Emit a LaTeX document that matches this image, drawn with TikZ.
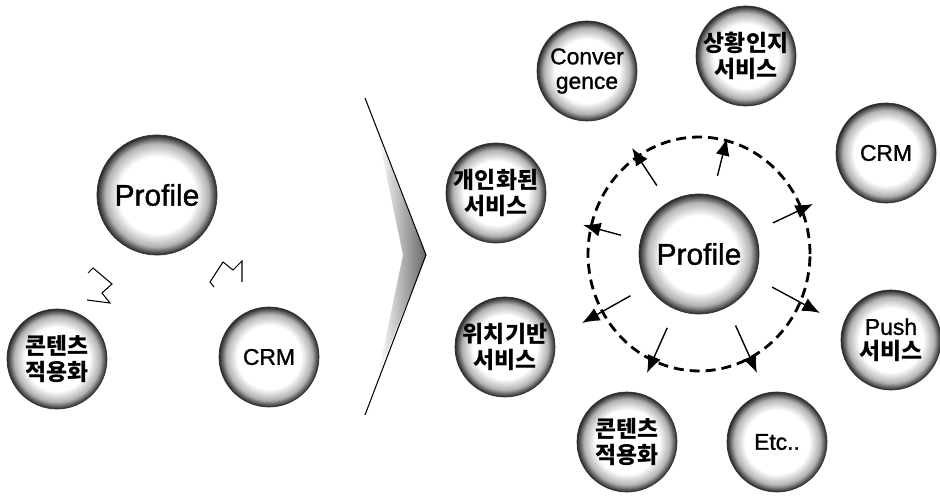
\documentclass[tikz,border=0pt]{standalone}
\usepackage{fontspec}
\setmainfont{Liberation Sans}[FakeBold=1.2]
\newfontfamily\kor{Noto Sans CJK KR}
\usepackage{tikz}
\usetikzlibrary{shapes,arrows.meta,positioning,calc}
\pgfdeclareradialshading{sphere}{\pgfpoint{0bp}{0bp}}{color(0bp)=(white); color(16bp)=(white); color(21.5bp)=(black!30); color(25bp)=(black!85); color(50bp)=(black!85)}

\begin{document}
\begin{tikzpicture}[x=0.02cm, y=-0.02cm,
    every node/.style={align=center, inner sep=0pt},
    ball/.style={circle, draw=black!80, line width=0.4pt, shading=sphere,
      minimum size=2cm, font=\fontsize{13}{14}\selectfont},
    bigball/.style={ball, minimum size=2.4cm, font=\fontsize{17}{19}\selectfont},
    hangul/.style={font=\kor\bfseries\fontsize{13}{14.5}\selectfont},
    spoke/.style={-{Latex[length=10pt, width=8pt]}, line width=0.8pt,
      shorten <=0.4cm},
    ring/.style={line width=1.6pt, dash pattern=on 0.2cm off 0.12cm},
    spark/.style={line width=0.6pt, line join=miter}
  ]
    \useasboundingbox (0,0) rectangle (940,496);
    % Before
    \node[bigball] (profL) at (157,195) {Profile};
    \node[ball, hangul] (contL) at (57,359) {콘텐츠\\적용화};
    \node[ball] (crmL) at (269,357) {CRM};
    \draw[spark] (88,273) -- (93,268) -- (112,284) -- (102,293) -- (110,303) -- (87,300);
    \draw[spark] (214,287) -- (210,282) -- (223,262) -- (233,270) -- (242,261) -- (242,282);
    % Chevron
    \shade[left color=white, right color=black!60] (378,135) -- (426,255) -- (378,375) -- (403,255) -- cycle;
    \draw[line width=0.6pt] (365,98) -- (426,255) -- (365,415);
    % After
    \node[bigball] (ctr) at (699,254) {Profile};
    \node[ball] (conv) at (587,71) {Conver\\gence};
    \node[ball, hangul] (ctx) at (746,56) {상황인지\\서비스};
    \node[ball] (crmR) at (886,153) {CRM};
    \node[ball, hangul] (pers) at (496,193) {개인화된\\서비스};
    \node[ball, hangul] (loc) at (505,347) {위치기반\\서비스};
    \node[ball] (push) at (891,340) {Push\\{\kor\bfseries 서비스}};
    \node[ball, hangul] (cont) at (627,442) {콘텐츠\\적용화};
    \node[ball] (etc) at (777,442) {Etc..};
    % Dashed ring
    \draw[ring] (ctr.center) ellipse [x radius=2.22cm, y radius=2.34cm];
    % Spokes
    \coordinate (o1) at (632,148);
    \coordinate (o2) at (727,138);
    \coordinate (o3) at (813,204);
    \coordinate (o4) at (820,313);
    \coordinate (o5) at (757,373);
    \coordinate (o6) at (647,373);
    \coordinate (o7) at (582,323);
    \coordinate (o8) at (583,225);
    \draw[spoke] (ctr.121) -- (o1);
    \draw[spoke] (ctr.77) -- (o2);
    \draw[spoke] (ctr.22) -- (o3);
    \draw[spoke] (ctr.-23) -- (o4);
    \draw[spoke] (ctr.-62) -- (o5);
    \draw[spoke] (ctr.-113) -- (o6);
    \draw[spoke] (ctr.-148) -- (o7);
    \draw[spoke] (ctr.167) -- (o8);
  \end{tikzpicture}
\end{document}
